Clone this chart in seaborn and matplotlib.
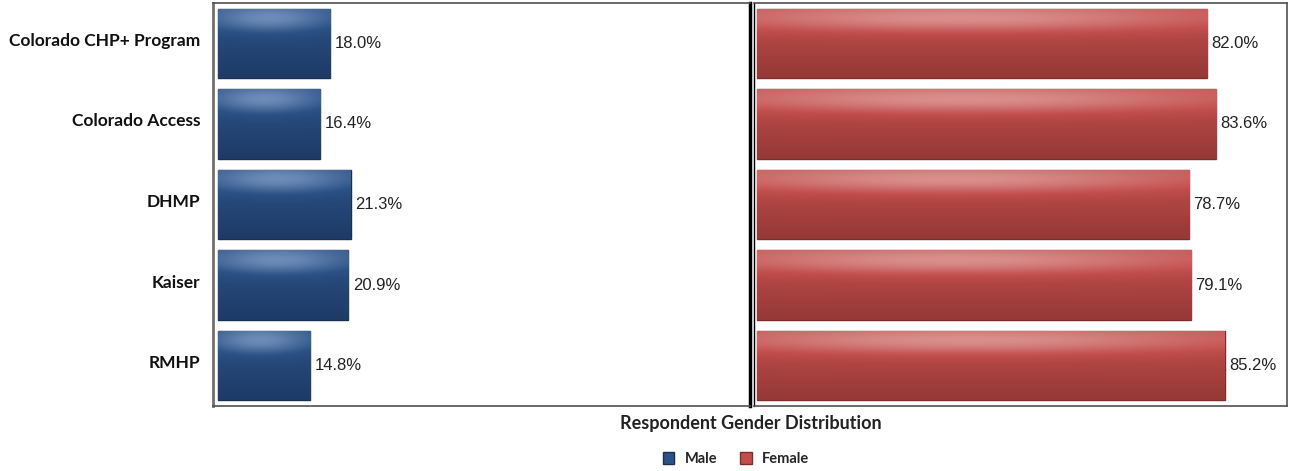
import numpy as np
import pandas as pd
import matplotlib
matplotlib.use("Agg")
import matplotlib.pyplot as plt
import matplotlib.transforms as mtransforms
import seaborn as sns
from matplotlib.colors import LinearSegmentedColormap
from matplotlib.patches import Patch

categories = ["Colorado CHP+ Program", "Colorado Access", "DHMP", "Kaiser", "RMHP"]
male = [18.0, 16.4, 21.3, 20.9, 14.8]
female = [82.0, 83.6, 78.7, 79.1, 85.2]
series_names = ["Male", "Female"]
title = "Respondent Gender Distribution"

sns.set_theme(style="white")
plt.rcParams['font.family'] = ['Lato', 'DejaVu Sans']

fig = plt.figure(figsize=(12.91, 4.71), dpi=100)
axL = fig.add_axes([213/1291, 1-406/471, (750-213)/1291, (406-3)/471])
axR = fig.add_axes([754/1291, 1-406/471, (1287-754)/1291, (406-3)/471])

blue = "#2b5287"
red = "#c24f4d"

def glossy(ax, patches, base, light, dark):
    cmap = LinearSegmentedColormap.from_list("g", [light, base, dark])
    for p in patches:
        x0, y0 = p.get_x(), p.get_y()
        w, h = p.get_width(), p.get_height()
        ny, nx = 60, 60
        yy, xx = np.mgrid[0:1:ny*1j, 0:1:nx*1j]
        hl = np.exp(-((xx-0.45)**2/0.3 + (yy-0.15)**2/0.04))
        v = 0.5 + 0.4*yy - 0.45*hl
        v = np.clip(v, 0, 1)
        im = ax.imshow(v, cmap=cmap, vmin=0, vmax=1, extent=[x0, x0+w, y0+h, y0],
                       aspect="auto", zorder=2, interpolation="bilinear")
        im.set_clip_path(p)

dfL = pd.DataFrame({"cat": categories, "val": male})
dfR = pd.DataFrame({"cat": categories, "val": female})

sns.barplot(data=dfL, y="cat", x="val", ax=axL, color=blue, width=0.86,
            edgecolor="#1a2f50", linewidth=1.0, saturation=1)
sns.barplot(data=dfR, y="cat", x="val", ax=axR, color=red, width=0.86,
            edgecolor="#7a2e2c", linewidth=1.0, saturation=1)

glossy(axL, axL.patches, blue, "#7f9bc4", "#1b355e")
glossy(axR, axR.patches, red, "#e0a09e", "#8a3331")

axL.set_xlim(-0.8, 85.5)
axR.set_xlim(-0.55, 96.5)
for ax in (axL, axR):
    ax.set_ylim(4.5, -0.5)
    ax.set_xticks([])
    ax.set_xlabel("")
    ax.set_ylabel("")
    for s in ax.spines.values():
        s.set_color("#505050")
        s.set_linewidth(1.2)

axR.set_yticks([])
axL.tick_params(axis="y", length=0, pad=9)
axL.set_yticklabels(categories, fontsize=12.5, fontweight="bold", color="#111111")
off = mtransforms.ScaledTranslation(0, 4/100, fig.dpi_scale_trans)
for lab in axL.get_yticklabels():
    lab.set_transform(lab.get_transform() + off)
axL.spines["right"].set_color("black")
axL.spines["right"].set_linewidth(2.5)
axL.spines["left"].set_linewidth(2.0)
axL.spines["left"].set_color("#707070")
axR.spines["left"].set_color("black")
axR.spines["left"].set_linewidth(1.0)

for ax, vals in ((axL, male), (axR, female)):
    for i, v in enumerate(vals):
        ax.text(v + (0.8 if ax is axL else 0.7), i, f"{v:.1f}%", va="center", ha="left",
                fontsize=12, family=["Liberation Sans"], color="#222222")

fig.text(751/1291, 1-424/471, title, ha="center", va="center",
         fontsize=13, fontweight="bold", color="#222222")

handles = [Patch(facecolor=blue, edgecolor="#1a2f50"), Patch(facecolor=red, edgecolor="#7a2e2c")]
fig.legend(handles, series_names, loc="center", bbox_to_anchor=(736/1291, 1-459/471), ncol=2,
           frameon=False, prop={"size": 10.5, "weight": "bold"}, handlelength=0.8, handleheight=0.8,
           columnspacing=1.6, handletextpad=0.7)

fig.savefig("out.png", dpi=100)
